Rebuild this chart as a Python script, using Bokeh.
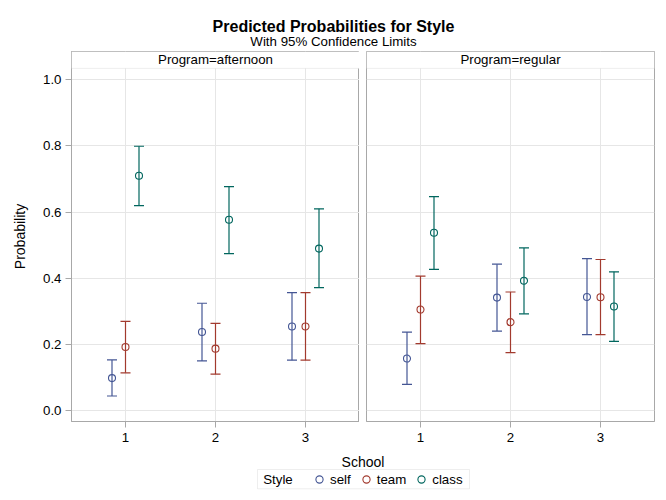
from bokeh.plotting import figure
from bokeh.layouts import column, row
from bokeh.models import (ColumnDataSource, Whisker, TeeHead, BoxAnnotation, Label,
                          Range1d, FixedTicker, PrintfTickFormatter, Legend, LegendItem)
from bokeh.embed import file_html
from bokeh.resources import INLINE

# ---------------- data ----------------
schools = [1, 2, 3]
styles = ["self", "team", "class"]
programs = ["afternoon", "regular"]
y_ticks = [0.0, 0.2, 0.4, 0.6, 0.8, 1.0]

# Program = afternoon
aft_self = [0.099, 0.238, 0.255]
aft_self_lo = [0.045, 0.151, 0.153]
aft_self_hi = [0.154, 0.325, 0.357]
aft_team = [0.193, 0.188, 0.255]
aft_team_lo = [0.115, 0.111, 0.153]
aft_team_hi = [0.270, 0.264, 0.357]
aft_class = [0.710, 0.577, 0.490]
aft_class_lo = [0.620, 0.475, 0.372]
aft_class_hi = [0.799, 0.677, 0.610]

# Program = regular
reg_self = [0.158, 0.342, 0.344]
reg_self_lo = [0.080, 0.241, 0.230]
reg_self_hi = [0.238, 0.443, 0.460]
reg_team = [0.306, 0.268, 0.343]
reg_team_lo = [0.203, 0.176, 0.230]
reg_team_hi = [0.407, 0.359, 0.457]
reg_class = [0.538, 0.393, 0.315]
reg_class_lo = [0.427, 0.293, 0.210]
reg_class_hi = [0.647, 0.492, 0.420]

# ---------------- style ----------------
FONT = "Liberation Sans"
COLORS = {"self": "#445694", "team": "#A23A2E", "class": "#01665E"}
DODGE = {"self": -0.15, "team": 0.0, "class": 0.15}
GRID = "#E6E6E6"
FRAME = "#A8A8A8"
HEADER_LINE = "#C8C8C8"
X_START, X_END = 0.4, 3.6
Y_START, Y_DATA_TOP, Y_END = -0.032, 1.034, 1.085

panel_data = {
    "afternoon": {
        "self": (aft_self, aft_self_lo, aft_self_hi),
        "team": (aft_team, aft_team_lo, aft_team_hi),
        "class": (aft_class, aft_class_lo, aft_class_hi),
    },
    "regular": {
        "self": (reg_self, reg_self_lo, reg_self_hi),
        "team": (reg_team, reg_team_lo, reg_team_hi),
        "class": (reg_class, reg_class_lo, reg_class_hi),
    },
}


def make_panel(program, first):
    p = figure(
        width=359 if first else 307, height=400,
        x_range=Range1d(X_START, X_END), y_range=Range1d(Y_START, Y_END),
        output_backend="svg", toolbar_location=None,
        min_border_left=71 if first else 7, min_border_right=0 if first else 12,
        min_border_top=0, min_border_bottom=30,
    )
    p.background_fill_color = "white"
    p.border_fill_color = "white"
    p.outline_line_color = FRAME
    p.outline_line_width = 1

    p.xgrid.grid_line_color = GRID
    p.ygrid.grid_line_color = GRID
    p.xaxis.ticker = FixedTicker(ticks=schools)
    p.yaxis.ticker = FixedTicker(ticks=y_ticks)
    p.yaxis.formatter = PrintfTickFormatter(format="%.1f")
    for ax in (p.xaxis, p.yaxis):
        ax.axis_line_color = FRAME
        ax.major_tick_line_color = FRAME
        ax.major_tick_in = 0
        ax.major_tick_out = 6
        ax.minor_tick_line_color = None
        ax.major_label_text_font = FONT
        ax.major_label_text_font_size = "13.3px"
        ax.major_label_text_color = "black"
    p.xaxis.major_label_standoff = 5
    p.yaxis.major_label_standoff = 4
    if first:
        p.yaxis.axis_label = "Probability"
        p.yaxis.axis_label_text_font = FONT
        p.yaxis.axis_label_text_font_size = "14px"
        p.yaxis.axis_label_text_font_style = "normal"
        p.yaxis.axis_label_text_color = "black"
        p.yaxis.axis_label_standoff = 12
    else:
        p.yaxis.visible = False

    for s in styles:
        est, lo, hi = panel_data[program][s]
        src = ColumnDataSource(dict(
            x=[v + DODGE[s] for v in schools], est=est, lo=lo, hi=hi))
        c = COLORS[s]
        w = Whisker(base="x", upper="hi", lower="lo", source=src, dimension="height",
                    line_color=c, line_width=1.2,
                    upper_head=TeeHead(size=10, line_color=c, line_width=1.2),
                    lower_head=TeeHead(size=10, line_color=c, line_width=1.2))
        p.add_layout(w)
        p.scatter("x", "est", source=src, marker="circle", size=7,
                  fill_color=None, line_color=c, line_width=1.1)

    hdr = BoxAnnotation(bottom=Y_DATA_TOP, fill_color="white", fill_alpha=1.0,
                        line_color=HEADER_LINE, line_width=1)
    p.add_layout(hdr)
    p.add_layout(Label(x=(X_START + X_END) / 2, y=(Y_DATA_TOP + Y_END) / 2,
                       text=f"Program={program}", text_align="center",
                       text_baseline="middle", text_font=FONT,
                       text_font_size="13.3px", text_color="black"))
    return p


left = make_panel(programs[0], True)
right = make_panel(programs[1], False)

# header with titles (pixel-like coordinates)
header = figure(width=666, height=51, x_range=Range1d(0, 666), y_range=Range1d(0, 51),
                output_backend="svg", toolbar_location=None, min_border=0,
                x_axis_type=None, y_axis_type=None)
header.grid.visible = False
header.outline_line_color = None
header.add_layout(Label(x=333, y=24.7, text="Predicted Probabilities for Style",
                        text_align="center", text_baseline="alphabetic",
                        text_font=FONT, text_font_size="16px",
                        text_font_style="bold", text_color="black"))
header.add_layout(Label(x=333, y=10.3, text="With 95% Confidence Limits",
                        text_align="center", text_baseline="alphabetic",
                        text_font=FONT, text_font_size="13.3px", text_color="black"))

# footer with x label and legend (pixel-like coordinates)
footer = figure(width=666, height=49, x_range=Range1d(0, 666), y_range=Range1d(0, 49),
                output_backend="svg", toolbar_location=None, min_border=0,
                x_axis_type=None, y_axis_type=None)
footer.grid.visible = False
footer.outline_line_color = None
footer.add_layout(Label(x=362.5, y=39, text="School", text_align="center",
                        text_baseline="middle", text_font=FONT,
                        text_font_size="14px", text_color="black"))
footer.add_layout(BoxAnnotation(left=257, right=469, bottom=11.7, top=31,
                                fill_color="white", fill_alpha=1.0,
                                line_color=HEADER_LINE, line_width=1))
footer.add_layout(Label(x=262.7, y=21.3, text="Style", text_align="left",
                        text_baseline="middle", text_font=FONT,
                        text_font_size="13.3px", text_color="black"))
items = []
for s in styles:
    r = footer.scatter(x=[float("nan")], y=[float("nan")], marker="circle", size=7,
                       fill_color=None, line_color=COLORS[s], line_width=1.1)
    items.append(LegendItem(label=s, renderers=[r]))
legend = Legend(items=items, orientation="horizontal", location=(310, 12),
                label_text_font=FONT, label_text_font_size="13.3px",
                label_text_color="black", glyph_width=18, glyph_height=18,
                label_height=18, label_standoff=2, spacing=6, padding=0,
                margin=0, border_line_color=None, background_fill_alpha=0.0)
footer.add_layout(legend)

layout = column(header, row(left, right), footer)
open("out.html", "w").write(file_html(layout, INLINE))
